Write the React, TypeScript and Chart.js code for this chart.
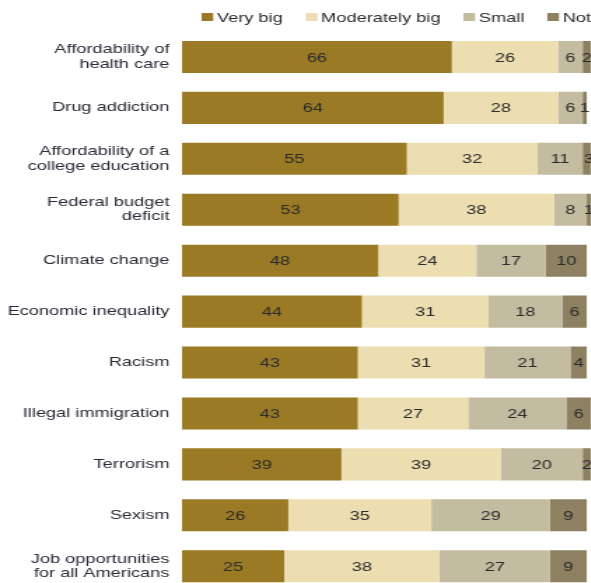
import React, { useEffect, useRef } from "react";
import { Chart, registerables } from "chart.js";

Chart.register(...registerables);

const categories: (string | string[])[] = [
  ["Affordability of", "health care"],
  "Drug addiction",
  ["Affordability of a", "college education"],
  ["Federal budget", "deficit"],
  "Climate change",
  "Economic inequality",
  "Racism",
  "Illegal immigration",
  "Terrorism",
  "Sexism",
  ["Job opportunities", "for all Americans"],
];

const seriesNames = ["Very big", "Moderately big", "Small", "Not at all"];
const veryBig = [66, 64, 55, 53, 48, 44, 43, 43, 39, 26, 25];
const moderatelyBig = [26, 28, 32, 38, 24, 31, 31, 27, 39, 35, 38];
const small = [6, 6, 11, 8, 17, 18, 21, 24, 20, 29, 27];
const notAtAll = [2, 1, 3, 1, 10, 6, 4, 6, 2, 9, 9];
const seriesColors = ["#9a7a25", "#ecdeb0", "#c3bca0", "#8d8161"];

const FONT = "'Liberation Sans', Arial, sans-serif";
const SX = 1.4; // horizontal stretch of the drawing
const CANVAS_W = 430;
const CANVAS_H = 615;

const valueLabels = {
  id: "valueLabels",
  afterDatasetsDraw(chart: any) {
    const ctx = chart.ctx;
    ctx.save();
    ctx.font = `13px ${FONT}`;
    ctx.fillStyle = "#2b2b2b";
    ctx.textAlign = "center";
    ctx.textBaseline = "middle";
    chart.data.datasets.forEach((ds: any, di: number) => {
      const meta = chart.getDatasetMeta(di);
      meta.data.forEach((el: any, i: number) => {
        const { x, base, y } = el.getProps(["x", "base", "y"], true);
        ctx.fillText(String(ds.data[i]), (x + base) / 2, y + 1);
      });
    });
    ctx.restore();
  },
};

const topLegend = {
  id: "topLegend",
  afterDraw(chart: any) {
    const ctx = chart.ctx;
    const ca = chart.chartArea;
    ctx.save();
    ctx.font = `13px ${FONT}`;
    ctx.textBaseline = "middle";
    ctx.textAlign = "left";
    let x = ca.left + 14;
    const y = 17;
    chart.data.datasets.forEach((ds: any) => {
      ctx.fillStyle = ds.backgroundColor;
      ctx.fillRect(x, y - 4, 8.3, 8);
      x += 8.3 + 2.7;
      ctx.fillStyle = "#2b2b2b";
      ctx.fillText(ds.label, x, y + 1);
      x += ctx.measureText(ds.label).width + 16.4;
    });
    ctx.restore();
  },
};

export default function App() {
  const ref = useRef<HTMLCanvasElement | null>(null);

  useEffect(() => {
    if (!ref.current) return;
    const values = [veryBig, moderatelyBig, small, notAtAll];
    const chart = new Chart(ref.current, {
      type: "bar",
      data: {
        labels: categories,
        datasets: seriesNames.map((name, i) => ({
          label: name,
          data: values[i],
          backgroundColor: seriesColors[i],
          borderWidth: 0,
          barPercentage: 0.63,
          categoryPercentage: 1,
        })),
      },
      options: {
        indexAxis: "y",
        responsive: false,
        animation: false,
        devicePixelRatio: 1,
        layout: { padding: { left: 0, right: CANVAS_W - 422, top: 31.5, bottom: 8 } },
        plugins: {
          legend: { display: false },
          tooltip: { enabled: false },
        },
        scales: {
          x: {
            stacked: true,
            min: 0,
            max: 100,
            display: false,
          },
          y: {
            stacked: true,
            grid: { display: false, drawTicks: false },
            border: { display: false },
            ticks: {
              padding: 9,
              color: "#2a2a38",
              font: { family: FONT, size: 13, lineHeight: 1.1 },
            },
            afterFit: (scale: any) => {
              scale.width = 130;
            },
          },
        },
      },
      plugins: [valueLabels, topLegend],
    } as any);
    return () => chart.destroy();
  }, []);

  return (
    <div
      style={{
        position: "fixed",
        left: 0,
        top: 0,
        width: 591,
        height: 583,
        overflow: "hidden",
        background: "#fff",
      }}
    >
      <canvas
        ref={ref}
        width={CANVAS_W}
        height={CANVAS_H}
        style={{ width: CANVAS_W * SX, height: CANVAS_H, display: "block" }}
      />
    </div>
  );
}
